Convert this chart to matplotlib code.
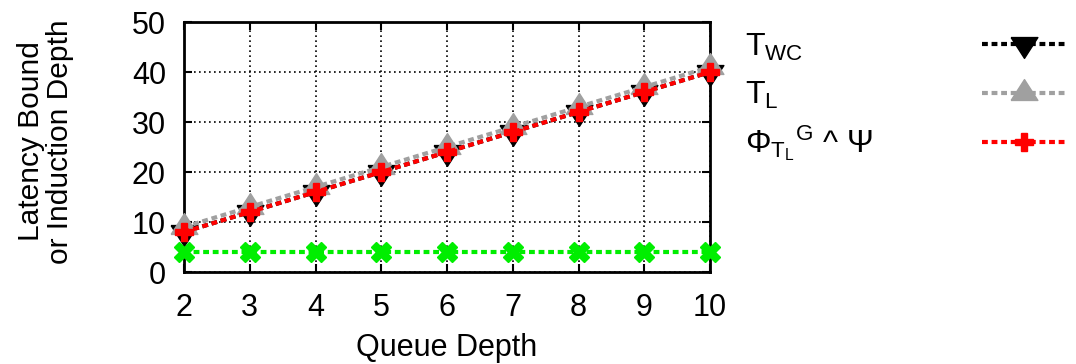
import matplotlib
matplotlib.use("Agg")
import matplotlib.pyplot as plt

plt.rcParams["font.family"] = ["Liberation Sans", "DejaVu Sans"]
plt.rcParams["mathtext.fontset"] = "custom"
plt.rcParams["mathtext.rm"] = "Liberation Sans"
plt.rcParams["mathtext.it"] = "Liberation Sans"
plt.rcParams["mathtext.bf"] = "Liberation Sans:bold"

queue_depth = [2, 3, 4, 5, 6, 7, 8, 9, 10]
t_wc = [8, 12, 16, 20, 24, 28, 32, 36, 40]
t_l = [9, 13, 17, 21, 25, 29, 33, 37, 41]
phi_psi = [8, 12, 16, 20, 24, 28, 32, 36, 40]
induction = [4, 4, 4, 4, 4, 4, 4, 4, 4]

labels = [r"$\mathregular{T_{WC}}$", r"$\mathregular{T_L}$",
          r"$\Phi_{\mathregular{T_L}}{}^{\mathregular{G}}$ ^ $\Psi$"]

# gnuplot-like wide triangles, centred on their centroid
tri_down = [(-0.964, 0.5), (0.964, 0.5), (0, -1), (-0.964, 0.5)]
tri_up = [(-0.964, -0.5), (0.964, -0.5), (0, 1), (-0.964, -0.5)]

fig = plt.figure(figsize=(10.76, 3.64), dpi=100)
ax = fig.add_axes([184 / 1076, 1 - 272 / 364, (710 - 184) / 1076, (272 - 22) / 364])

lw = 3
dash = (1.4, 0.9)
l1, = ax.plot(queue_depth, t_wc, color="black", lw=lw, dashes=dash,
              marker=tri_down, markersize=20, zorder=3, clip_on=False)
l2, = ax.plot(queue_depth, t_l, color="#a0a0a0", lw=lw, dashes=dash,
              marker=tri_up, markersize=20, zorder=4, clip_on=False)
l3, = ax.plot(queue_depth, phi_psi, color="#ff0000", lw=lw, dashes=dash,
              marker="P", markersize=13, zorder=5, clip_on=False)
ax.plot(queue_depth, induction, color="#00ee00", lw=lw, dashes=dash,
        marker="X", markersize=14, zorder=5, clip_on=False)

ax.set_xlim(2, 10)
ax.set_ylim(0, 50)
ax.set_xticks(queue_depth)
ax.set_yticks([0, 10, 20, 30, 40, 50])
ax.grid(True, color="black", linestyle=(0, (1, 2)), linewidth=1.2)
ax.tick_params(direction="in", top=True, right=True, length=6, width=1.5,
               labelsize=22)
ax.tick_params(axis="x", pad=15)
ax.tick_params(axis="y", pad=13)
for s in ax.spines.values():
    s.set_linewidth(2)

ax.set_xlabel("Queue Depth", fontsize=22)
ax.xaxis.set_label_coords(0.5, -0.245)
ax.set_ylabel("Latency Bound\nor Induction Depth", fontsize=21.5,
              linespacing=1.05, va="center")
ax.yaxis.set_label_coords(-0.263, 0.522)

# legend: labels on the left, samples on the right
ys = [47, 95, 143]
for lab, y in zip(labels, ys):
    fig.text(745 / 1076, 1 - y / 364, lab, fontsize=23, va="center", ha="left")
leg = ax.legend([l1, l2, l3], ["", "", ""], loc="upper left",
                bbox_to_anchor=(982 / 1076, 1 - 34 / 364),
                bbox_transform=fig.transFigure, frameon=False,
                handlelength=3.0, handletextpad=0, labelspacing=0.83,
                fontsize=20, borderaxespad=0, borderpad=0)

fig.savefig("out.png", dpi=100)
